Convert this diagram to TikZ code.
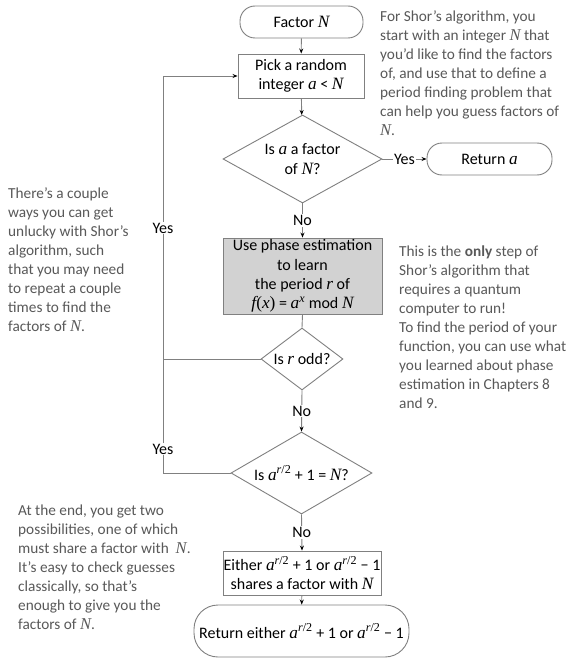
\documentclass[tikz,border=0pt]{standalone}
\usepackage{fontspec}
\setmainfont{Carlito}
\newfontfamily\varfont[Scale=1.08]{Liberation Serif}
\newcommand{\mvar}[1]{{\varfont\itshape #1}}
\newcommand{\rhalf}{\textsuperscript{\mvar{r}{\varfont/2}}}
\usetikzlibrary{shapes.geometric,arrows.meta}
\definecolor{notegray}{HTML}{595959}
\definecolor{linegray}{HTML}{808080}
\definecolor{boxfill}{HTML}{D2D2D2}
\begin{document}
\begin{tikzpicture}[x=1pt,y=1pt,
  every node/.style={font=\fontsize{16}{19.3}\selectfont},
  conn/.style={draw=linegray,line width=0.9pt},
  arr/.style={conn,-{Stealth[length=5pt,width=4pt,color=black]}},
  procbox/.style={draw=linegray,line width=0.9pt,rectangle,align=center,inner sep=0pt},
  term/.style={draw=linegray,line width=0.9pt,rectangle,rounded corners=15pt,align=center,inner sep=0pt},
  decide/.style={draw=linegray,line width=0.9pt,diamond,inner sep=0pt},
  lbl/.style={fill=white,inner sep=1pt},
  note/.style={text=notegray,anchor=north west,align=left,inner sep=0pt,font=\fontsize{15.3}{19}\selectfont}]
\useasboundingbox (0,0) rectangle (588,-658);
\fill[white] (0,0) rectangle (588,-658);

% flowchart nodes
\node[term,minimum width=123pt,minimum height=32pt] (factorN) at (301.5,-22) {Factor \mvar{N}};
\node[procbox,minimum width=126pt,minimum height=44pt] (pick) at (301,-76) {Pick a random\\integer \mvar{a} < \mvar{N}};
\node[decide,minimum width=159pt,minimum height=88pt,
      label={[align=center]center:{Is \mvar{a} a factor\\of \mvar{N}?}}] (q1) at (302.5,-159) {};
\node[term,minimum width=125pt,minimum height=32pt] (reta) at (489.5,-159) {Return \mvar{a}};
\node[procbox,fill=boxfill,minimum width=159pt,minimum height=76pt] (phase) at (302.5,-276)
  {Use phase estimation\\to learn\\the period \mvar{r} of\\\mvar{f}{\varfont(}\mvar{x}{\varfont)} = \mvar{a}\textsuperscript{\mvar{x}} mod \mvar{N}};
\node[decide,minimum width=82pt,minimum height=62pt,
      label={center:{Is \mvar{r} odd?}}] (q2) at (302,-359) {};
\node[decide,minimum width=141pt,minimum height=82pt,
      label={center:{Is \mvar{a}\rhalf{} + 1 = \mvar{N}?}}] (q3) at (301.5,-473) {};
\node[procbox,minimum width=158pt,minimum height=44pt] (either) at (302,-573)
  {Either \mvar{a}\rhalf{} + 1 or \mvar{a}\rhalf{} − 1\\shares a factor with \mvar{N}};
\node[term,rounded corners=24pt,minimum width=215pt,minimum height=52pt] (rete) at (301.5,-631)
  {Return either \mvar{a}\rhalf{} + 1 or \mvar{a}\rhalf{} − 1};

% loop coordinates
\coordinate (jA) at (163,-359);
\coordinate (jB) at (163,-473);
\coordinate (jT) at (163,-76);

% connectors
\draw[arr] (factorN) -- (pick);
\draw[arr] (pick) -- (q1);
\draw[arr] (q1.east) -- node[lbl] {Yes} (reta.west);
\draw[arr] (q1.south) -- node[lbl] {No} (phase.north);
\draw[conn] (phase.south) -- (q2.north);
\draw[arr] (q2.south) -- node[lbl] {No} (q3.north);
\draw[arr] (q3.south) -- node[lbl] {No} (either.north);
\draw[arr] (either) -- (rete);
\draw[arr] (q2.west) -- (jA) -- node[lbl,pos=0.463] {Yes} (jT) -- (pick.west);
\draw[conn] (q3.west) -- (jB) -- node[lbl,pos=0.21] {Yes} (jA);

% notes
\node[note] (n1) at (380,-11) {For Shor’s algorithm, you\\start with an integer \mvar{N} that\\you’d like to find the factors\\of, and use that to define a\\period finding problem that\\can help you guess factors of\\\mvar{N}.};
\node[note] (n2) at (8,-188) {There’s a couple\\ways you can get\\unlucky with Shor’s\\algorithm, such\\that you may need\\to repeat a couple\\times to find the\\factors of \mvar{N}.};
\node[note] (n3) at (399,-246) {This is the \textbf{only} step of\\Shor’s algorithm that\\requires a quantum\\computer to run!\\To find the period of your\\function, you can use what\\you learned about phase\\estimation in Chapters 8\\and 9.};
\node[note] (n4) at (18,-505) {At the end, you get two\\possibilities, one of which\\must share a factor with\ \ \mvar{N}.\\It’s easy to check guesses\\classically, so that’s\\enough to give you the\\factors of \mvar{N}.};
\end{tikzpicture}
\end{document}
